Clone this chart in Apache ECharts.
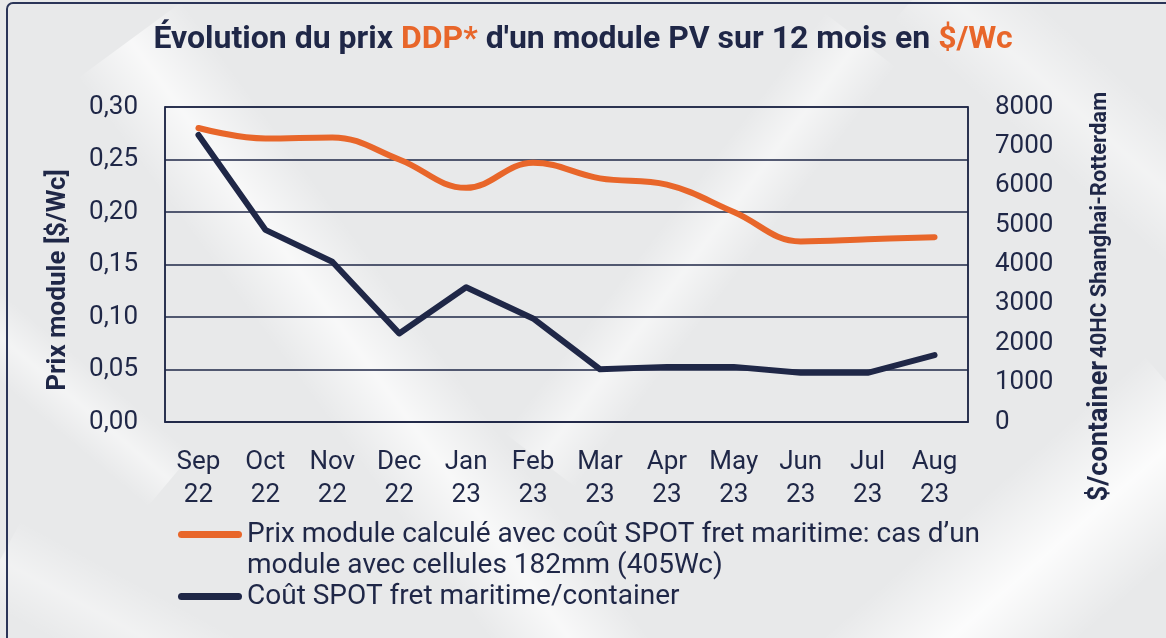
<!DOCTYPE html>
<html>
<head>
<meta charset="utf-8">
<script src="https://cdn.jsdelivr.net/npm/echarts@6/dist/echarts.min.js"></script>
<style>
  html, body { margin: 0; padding: 0; }
  #chart { width: 1166px; height: 638px; }
</style>
</head>
<body>
<div id="chart"></div>
<script>
// data
const months = ["Sep\n22", "Oct\n22", "Nov\n22", "Dec\n22", "Jan\n23", "Feb\n23",
  "Mar\n23", "Apr\n23", "May\n23", "Jun\n23", "Jul\n23", "Aug\n23"];
const modulePrice = [0.280, 0.270, 0.271, 0.250, 0.223, 0.247, 0.232, 0.226, 0.200, 0.172, 0.174, 0.176];
const freightCost = [7290, 4880, 4070, 2250, 3420, 2630, 1340, 1400, 1400, 1250, 1250, 1700];
const seriesNames = [
  "Prix module calculé avec coût SPOT fret maritime: cas d’un\nmodule avec cellules 182mm (405Wc)",
  "Coût SPOT fret maritime/container"
];

const navy = "#1f2747";
const orange = "#e8662a";
const font = "Roboto, 'Noto Sans', sans-serif";
const capsule = "path://M3.5,0H60.5A3.5,3.5,0,0,1,60.5,7H3.5A3.5,3.5,0,0,1,3.5,0Z";

// soft light streak of the photo background, fading on both sides
function streak(p1, p2, w, alpha) {
  const dx = p2[0] - p1[0], dy = p2[1] - p1[1];
  const len = Math.hypot(dx, dy);
  const nx = -dy / len * w / 2, ny = dx / len * w / 2;
  const cx = (p1[0] + p2[0]) / 2, cy = (p1[1] + p2[1]) / 2;
  return {
    type: "polygon", z: -10, silent: true,
    shape: {points: [[p1[0] + nx, p1[1] + ny], [p2[0] + nx, p2[1] + ny], [p2[0] - nx, p2[1] - ny], [p1[0] - nx, p1[1] - ny]]},
    style: {
      fill: {
        type: "linear", global: true,
        x: cx - nx, y: cy - ny, x2: cx + nx, y2: cy + ny,
        colorStops: [
          {offset: 0, color: "rgba(255,255,255,0)"},
          {offset: 0.5, color: "rgba(255,255,255," + alpha + ")"},
          {offset: 1, color: "rgba(255,255,255,0)"}
        ]
      }
    }
  };
}

const chart = echarts.init(document.getElementById("chart"));

chart.setOption({
  backgroundColor: "#e8e9ea",
  textStyle: {fontFamily: font},
  graphic: [
    streak([130, 40], [600, 680], 130, 0.7),
    streak([540, 460], [860, 40], 90, 0.55),
    streak([880, 700], [1200, 420], 170, 0.85),
    streak([-20, 320], [170, 480], 70, 0.5),
    streak([930, -20], [1200, 220], 110, 0.45),
    streak([0, 560], [260, 700], 90, 0.4),
    {type: "rect", z: 10, silent: true, shape: {x: 7, y: 3, width: 1200, height: 700, r: [6, 0, 0, 0]},
      style: {fill: "none", stroke: "#2b3558", lineWidth: 2}}
  ],
  title: {
    left: "center",
    top: 19,
    text: "{a|Évolution du prix }{o|DDP*}{a| d'un module PV sur 12 mois en }{o|$/Wc}",
    textStyle: {
      rich: {
        a: {fontFamily: font, fontSize: 32, fontWeight: "bold", color: navy},
        o: {fontFamily: font, fontSize: 32, fontWeight: "bold", color: orange}
      }
    }
  },
  legend: {
    orient: "vertical",
    left: 178,
    top: 488,
    padding: 0,
    itemWidth: 64,
    itemHeight: 7,
    itemGap: 0,
    // blank first row so the first text line sits beside its icon
    formatter: name => name === seriesNames[0] ? "\u00a0\n" + name : name,
    textStyle: {fontFamily: font, fontSize: 28, color: navy, lineHeight: 31},
    data: [
      {name: seriesNames[0], icon: capsule},
      {name: seriesNames[1], icon: capsule}
    ]
  },
  grid: {
    left: 165,
    right: 198,
    top: 107,
    bottom: 216,
    show: true,
    borderColor: navy,
    borderWidth: 1.5
  },
  xAxis: {
    type: "category",
    data: months,
    boundaryGap: true,
    axisTick: {show: false},
    axisLine: {lineStyle: {color: navy, width: 1.5}},
    axisLabel: {color: navy, fontSize: 26, lineHeight: 33, margin: 24, interval: 0}
  },
  yAxis: [
    {
      type: "value",
      min: 0,
      max: 0.30,
      interval: 0.05,
      name: "Prix module [$/Wc]",
      nameLocation: "middle",
      nameRotate: 90,
      nameGap: 94,
      nameTextStyle: {color: navy, fontSize: 26, fontWeight: "bold", padding: [0, 31, 0, 0]},
      axisLine: {show: true, lineStyle: {color: navy, width: 1.5}},
      axisTick: {show: false},
      axisLabel: {color: navy, fontSize: 26, margin: 27, formatter: v => v.toFixed(2).replace(".", ",")},
      splitLine: {lineStyle: {color: navy, width: 1.5}}
    },
    {
      type: "value",
      min: 0,
      max: 8000,
      interval: 1000,
      position: "right",
      name: "{b|$/container} {s|40HC Shanghai-Rotterdam}",
      nameLocation: "middle",
      nameRotate: 90,
      nameGap: 119,
      nameTextStyle: {
        padding: [0, 64, 0, 0],
        rich: {
          b: {fontFamily: font, fontSize: 27, fontWeight: "bold", color: navy},
          s: {fontFamily: font, fontSize: 22, fontWeight: "bold", color: navy}
        }
      },
      axisLine: {show: true, lineStyle: {color: navy, width: 1.5}},
      axisTick: {show: false},
      axisLabel: {color: navy, fontSize: 26, margin: 27, formatter: v => String(v)},
      splitLine: {show: false}
    }
  ],
  series: [
    {
      name: seriesNames[0],
      type: "line",
      yAxisIndex: 0,
      data: modulePrice,
      smooth: 0.4,
      showSymbol: false,
      color: orange,
      lineStyle: {color: orange, width: 6, cap: "round", join: "round"},
      z: 3
    },
    {
      name: seriesNames[1],
      type: "line",
      yAxisIndex: 1,
      data: freightCost,
      showSymbol: false,
      color: navy,
      lineStyle: {color: navy, width: 6, cap: "round", join: "round"},
      z: 2
    }
  ]
});

window.addEventListener("resize", () => chart.resize());
</script>
</body>
</html>
